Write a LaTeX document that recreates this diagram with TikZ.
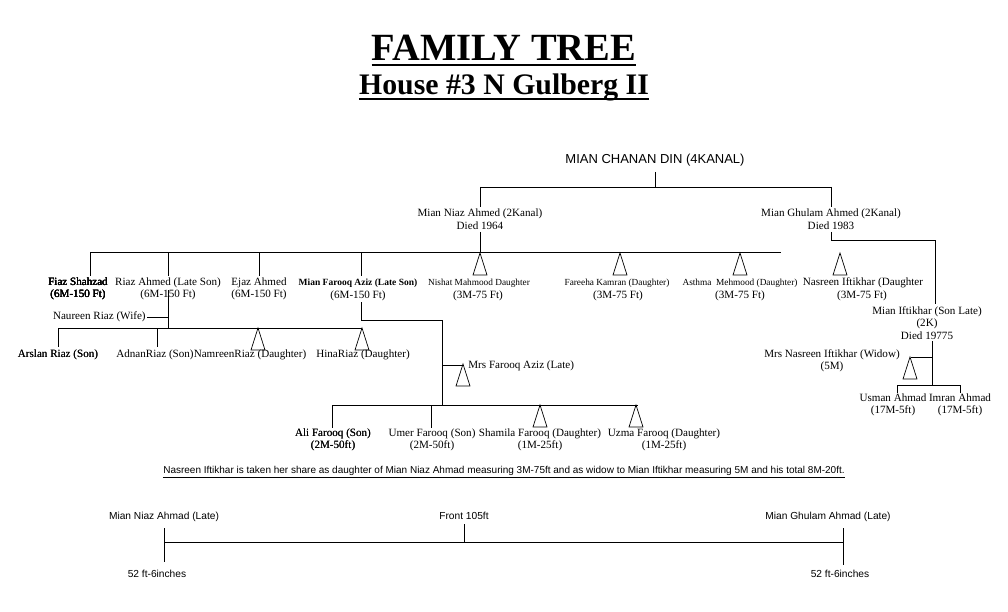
\documentclass[tikz,border=0pt]{standalone}
\usepackage{fontspec}
\setmainfont{Liberation Serif}
\setsansfont{Liberation Sans}
\begin{document}
\begin{tikzpicture}[x=1pt,y=-1pt,line width=0.7pt,
  nm/.style={font=\fontsize{11.1}{12.5}\selectfont,align=center,inner sep=0pt},
  sm/.style={font=\fontsize{9.3}{10}\selectfont,inner sep=0pt},
  sf/.style={font=\sffamily\fontsize{10.2}{11}\selectfont,inner sep=0pt}]
\useasboundingbox (0,0) rectangle (1008,612);
\def\tri#1#2{\draw (#1,#2) -- ++(-7,22) -- ++(14,0) -- cycle;}
\node[font=\bfseries\fontsize{38.5}{40}\selectfont,inner sep=0pt,anchor=base] (t1) at (504,61) {FAMILY TREE};
\draw[line width=1.6pt] ([yshift=-4pt]t1.base west) -- ([yshift=-4pt]t1.base east);
\node[font=\bfseries\fontsize{29.8}{32}\selectfont,inner sep=0pt,anchor=base] (t2) at (504,95) {House \#3 N Gulberg II};
\draw[line width=1.4pt] ([yshift=-4pt]t2.base west) -- ([yshift=-4pt]t2.base east);
\node[sf,font=\sffamily\fontsize{13}{14}\selectfont] (root) at (655,160) {MIAN CHANAN DIN (4KANAL)};
\node[nm] (niaz) at (480,219) {Mian Niaz Ahmed (2Kanal)\\Died 1964};
\node[nm] (ghul) at (831,219) {Mian Ghulam Ahmed (2Kanal)\\Died 1983};
\draw (655,172) -- (655,187) (480,187) -- (831,187) (480,187) -- (480,207) (831,187) -- (831,207);
\draw (480,232) -- (480,252) (90,252) -- (781,252);
\foreach \x in {90,168,259,361} \draw (\x,252) -- (\x,276);
\foreach \x in {480,620,740,840} \tri{\x}{253}
\node[nm] (fiaz) at (78,289) {Fiaz Shahzad\\(6M-150 Ft)};
\node[nm] (riaz) at (168,289) {Riaz Ahmed (Late Son)\\(6M-150 Ft)};
\node[nm] (ejaz) at (259,289) {Ejaz Ahmed\\(6M-150 Ft)};
\node[sm,font=\bfseries\fontsize{9.5}{10}\selectfont] (far) at (358,283) {Mian Farooq Aziz (Late Son)};
\node[nm] (far2) at (358,296) {(6M-150 Ft)};
\node[sm] (nis) at (479,283) {Nishat Mahmood Daughter};
\node[nm] (nis2) at (478,296) {(3M-75 Ft)};
\node[sm] (fare) at (617,283) {Fareeha Kamran (Daughter)};
\node[nm] (fare2) at (618,296) {(3M-75 Ft)};
\node[sm] (ast) at (740,283) {Asthma\ \ Mehmood (Daughter)};
\node[nm] (ast2) at (740,296) {(3M-75 Ft)};
\node[nm] (nas) at (863,283) {Nasreen Iftikhar (Daughter};
\node[nm] (nas2) at (862,296) {(3M-75 Ft)};
% Riaz family
\draw (168,290) -- (168,328) (147,317) -- (168,317) (58,328) -- (362,328);
\node[nm,anchor=east] (wife) at (146,317) {Naureen Riaz (Wife)};
\foreach \x in {58,157} \draw (\x,328) -- (\x,347);
\foreach \x in {258,362} \tri{\x}{328}
\node[nm] (ars) at (58,355) {Arslan Riaz (Son)};
\node[nm] (adn) at (155,355) {AdnanRiaz (Son)};
\node[nm] (nam) at (250,355) {NamreenRiaz (Daughter)};
\node[nm] (hin) at (363,355) {HinaRiaz (Daughter)};
% Farooq family
\draw (361,302) -- (361,320) -- (442,320) -- (442,405) (442,365) -- (463,365) (332,405) -- (638,405);
\tri{463}{364}
\node[nm,anchor=west] (mrsf) at (468,366) {Mrs Farooq Aziz (Late)};
\foreach \x in {332,431} \draw (\x,405) -- (\x,428);
\foreach \x in {540,636} \tri{\x}{405}
\node[nm] (ali) at (333,440) {Ali Farooq (Son)\\(2M-50ft)};
\node[nm] (ume) at (432,440) {Umer Farooq (Son)\\(2M-50ft)};
\node[nm] (sha) at (540,440) {Shamila Farooq (Daughter)\\(1M-25ft)};
\node[nm] (uzm) at (664,440) {Uzma Farooq (Daughter)\\(1M-25ft)};
% Ghulam family
\draw (831,232) -- (831,240) -- (935,240) -- (935,304);
\node[nm] (ift) at (927,323) {Mian Iftikhar (Son Late)\\(2K)\\Died 19775};
\draw (932,341) -- (932,385) (932,357) -- (911,357) (897,385) -- (960,385) (897,385) -- (897,393) (960,385) -- (960,393);
\tri{910}{357}
\node[nm] (mrsn) at (832,361) {Mrs Nasreen Iftikhar (Widow)\\(5M)};
\node[nm] (usm) at (893,405) {Usman Ahmad\\(17M-5ft)};
\node[nm] (imr) at (960,405) {Imran Ahmad\\(17M-5ft)};
\node[sf,font=\sffamily\fontsize{10}{11}\selectfont] (note) at (504,471) {Nasreen Iftikhar is taken her share as daughter of Mian Niaz Ahmad measuring 3M-75ft and as widow to Mian Iftikhar measuring 5M and his total 8M-20ft.};
\draw[line width=0.5pt] ([yshift=-1pt]note.south west) -- ([yshift=-1pt]note.south east);
% plot
\node[sf] (pl) at (164,517) {Mian Niaz Ahmad (Late)};
\node[sf] (pf) at (464,516) {Front 105ft};
\node[sf] (pr) at (828,517) {Mian Ghulam Ahmad (Late)};
\node[sf] (dl) at (157,574) {52 ft-6inches};
\node[sf] (dr) at (840,574) {52 ft-6inches};
\draw (164,542) -- (843,542) (164,528) -- (164,562) (843,528) -- (843,565) (464,524) -- (464,542);
\end{tikzpicture}
\end{document}
